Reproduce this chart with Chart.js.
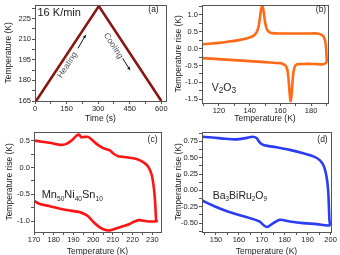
<!DOCTYPE html>
<html>
<head>
<meta charset="utf-8">
<script src="https://cdn.jsdelivr.net/npm/chart.js@4.4.1/dist/chart.umd.min.js"></script>
<style>
    html, body { margin: 0; padding: 0; width: 340px; height: 255px; overflow: hidden; background: #fff; }
    canvas { position: absolute; }
</style>
</head>
<body>
<canvas id="chartRamp" width="170" height="127" style="left:0;top:0"></canvas>
<canvas id="chartV2O3" width="170" height="127" style="left:170px;top:0"></canvas>
<canvas id="chartMnNiSn" width="170" height="130" style="left:0;top:127px"></canvas>
<canvas id="chartBBR" width="170" height="130" style="left:170px;top:127px"></canvas>
<script>
/* ─── Data ─────────────────────────────────────────────────── */

// (a) temperature program
const rampTime = [5, 303, 600];
const rampTemp = [165, 234, 165];

// (b) V2O3 — heating branch then cooling branch
const v2o3T = [109, 115, 120, 125, 130, 135, 140, 143, 144.5, 145.8, 146.8, 147.6, 148.3, 149.1, 150, 151, 152.5, 154.5, 160, 170, 180, 184, 187.2, 188.7, 189.6, 190, 190, 188, 184, 178, 172, 171, 169.5, 168.5, 167.8, 167.1, 166.6, 166, 165.3, 164.5, 163.3, 161.5, 160, 150, 140, 130, 120, 109];
const v2o3Rise = [0.13, 0.15, 0.17, 0.2, 0.23, 0.27, 0.33, 0.40, 0.48, 0.65, 0.95, 1.20, 1.26, 1.10, 0.80, 0.60, 0.50, 0.46, 0.45, 0.45, 0.45, 0.45, 0.40, 0.30, 0.10, -0.20, -0.40, -0.46, -0.46, -0.45, -0.46, -0.46, -0.52, -0.70, -1.05, -1.45, -1.55, -1.30, -0.90, -0.62, -0.50, -0.45, -0.43, -0.40, -0.37, -0.34, -0.31, -0.28];

// (c) Mn50Ni40Sn10
const mnT = [170, 174, 178, 182, 184, 186.4, 189, 191.5, 192.9, 194, 195.8, 197.5, 199.2, 201.7, 205.1, 208.5, 210.2, 212.7, 217, 222, 225.4, 228, 229.7, 230.8, 231.5, 231.9, 232.2, 227, 223.7, 221.2, 218.6, 215.3, 211.9, 208.5, 205.1, 202.5, 200, 197.5, 195.8, 193.2, 186.4, 178, 172.9, 170];
const mnRise = [0.5, 0.48, 0.46, 0.43, 0.42, 0.44, 0.5, 0.59, 0.61, 0.56, 0.57, 0.57, 0.52, 0.44, 0.36, 0.32, 0.26, 0.21, 0.19, 0.16, 0.10, 0.01, -0.14, -0.39, -0.69, -0.97, -1.0, -1.0, -0.98, -1.0, -1.05, -1.09, -1.13, -1.17, -1.15, -1.09, -1.01, -0.91, -0.87, -0.83, -0.79, -0.72, -0.68, -0.62];

// (d) Ba3BiRu2O9
const bbrT = [143.9, 148.3, 154.2, 158.6, 163, 166, 167.7, 169.2, 171.1, 176.3, 182.2, 188.1, 192.5, 195.4, 197.2, 198.4, 199, 199.3, 199.5, 199.5, 194, 188.1, 182.2, 177.8, 175, 172.1, 168.9, 164.5, 158.6, 154.2, 149.8, 145.4, 143.9];
const bbrRise = [0.82, 0.81, 0.79, 0.78, 0.80, 0.82, 0.80, 0.73, 0.69, 0.66, 0.62, 0.57, 0.52, 0.46, 0.36, 0.18, -0.02, -0.27, -0.45, -0.535, -0.515, -0.5, -0.475, -0.45, -0.50, -0.56, -0.475, -0.42, -0.36, -0.31, -0.25, -0.18, -0.15];

/* ─── Shared style ─────────────────────────────────────────── */
const FONT = "'Liberation Sans', Arial, sans-serif";
const INK = '#222';
const FRAME = '#555';

function isMajor(v, major) {
    const r = v / major;
    return Math.abs(r - Math.round(r)) < 1e-6;
}

function axis(o) {
    return {
        type: 'linear', min: o.min, max: o.max,
        afterFit: s => { if (s.isHorizontal()) s.height = o.size; else s.width = o.size; },
        border: { display: false },
        grid: { drawOnChartArea: false, drawTicks: true, tickLength: 3, color: FRAME, lineWidth: 1 },
        ticks: {
            stepSize: o.minor, autoSkip: false, includeBounds: false, maxRotation: 0,
            padding: o.tickPad ?? 1, color: INK, font: { size: 7.5, family: FONT, lineHeight: 1 },
            callback: v => {
                if (Math.abs(v) < 1e-9) v = 0;
                return isMajor(v, o.major) ? v.toFixed(o.dec) : '';
            }
        },
        title: { display: true, text: o.title, color: INK, font: { size: 8.5, family: FONT }, padding: o.titlePad }
    };
}

// frame round the plot area
const frame = {
    id: 'frame',
    afterDatasetsDraw(chart) {
        const { ctx, chartArea: a } = chart;
        ctx.save();
        ctx.strokeStyle = FRAME;
        ctx.lineWidth = 1;
        ctx.strokeRect(Math.round(a.left) + 0.5, Math.round(a.top) + 0.5,
            Math.round(a.right) - Math.round(a.left), Math.round(a.bottom) - Math.round(a.top));
        ctx.restore();
    }
};

// text with subscripts: parts = [[text, isSub], ...]
function richText(ctx, parts, x, y, size, subScale, drop) {
    let cx = x;
    ctx.textAlign = 'left';
    ctx.textBaseline = 'alphabetic';
    parts.forEach(([t, sub]) => {
        ctx.font = (sub ? size * subScale : size) + 'px ' + FONT;
        ctx.fillText(t, cx, sub ? y + drop : y);
        cx += ctx.measureText(t).width;
    });
}

function panelLabel(ctx, txt, x, y) {
    ctx.font = '8.5px ' + FONT;
    ctx.fillStyle = INK;
    ctx.textAlign = 'center';
    ctx.textBaseline = 'alphabetic';
    ctx.fillText(txt, x, y);
}

function arrow(ctx, x1, y1, x2, y2) {
    const ang = Math.atan2(y2 - y1, x2 - x1);
    ctx.strokeStyle = '#111';
    ctx.fillStyle = '#111';
    ctx.lineWidth = 1;
    ctx.beginPath(); ctx.moveTo(x1, y1); ctx.lineTo(x2, y2); ctx.stroke();
    ctx.beginPath();
    ctx.moveTo(x2, y2);
    ctx.lineTo(x2 - 3.5 * Math.cos(ang - 0.45), y2 - 3.5 * Math.sin(ang - 0.45));
    ctx.lineTo(x2 - 3.5 * Math.cos(ang + 0.45), y2 - 3.5 * Math.sin(ang + 0.45));
    ctx.closePath(); ctx.fill();
}

function rotText(ctx, txt, x, y, deg) {
    ctx.save();
    ctx.translate(x, y);
    ctx.rotate(deg * Math.PI / 180);
    ctx.font = '8.5px ' + FONT;
    ctx.fillStyle = '#555';
    ctx.textAlign = 'center';
    ctx.textBaseline = 'middle';
    ctx.fillText(txt, 0, 0);
    ctx.restore();
}

function makePanel(id, cfg) {
    const pts = cfg.xs.map((x, i) => ({ x, y: cfg.ys[i] }));
    return new Chart(document.getElementById(id), {
        type: 'scatter',
        data: { datasets: [{ data: pts, showLine: true, borderColor: cfg.color, borderWidth: 2.6, pointRadius: 0, tension: cfg.tension, fill: false }] },
        options: {
            responsive: false, animation: false, events: [],
            layout: { padding: cfg.pad },
            plugins: { legend: { display: false }, tooltip: { enabled: false } },
            scales: { x: axis(cfg.x), y: axis(cfg.y) }
        },
        plugins: [frame, { id: 'deco', afterDraw(chart) { const c = chart.ctx; c.save(); cfg.deco(c); c.restore(); } }]
    });
}

// ─── (a) ────────────────────────────────────────────────────
makePanel('chartRamp', {
    xs: rampTime, ys: rampTemp, color: '#8b1414', tension: 0,
    pad: { left: 0, top: 2, right: 4, bottom: 0 },
    x: { min: 0, max: 622, minor: 75, major: 150, dec: 0, size: 26, title: 'Time (s)', titlePad: { top: 0, bottom: 3.6 } },
    y: { min: 165, max: 235, minor: 7.5, major: 15, dec: 0, size: 35, title: 'Temperature (K)', titlePad: { top: 4, bottom: 0 } },
    deco(ctx) {
        ctx.fillStyle = INK;
        ctx.font = '11px ' + FONT;
        ctx.textAlign = 'left';
        ctx.fillText('16 K/min', 37.5, 15.5);
        panelLabel(ctx, '(a)', 153.5, 11.5);
        rotText(ctx, 'Heating', 67.5, 65, -57);
        rotText(ctx, 'Cooling', 113.3, 45.8, 57);
        arrow(ctx, 78, 48.3, 85.7, 35);
        arrow(ctx, 122.7, 58.3, 130, 70);
    }
});

// ─── (b) ────────────────────────────────────────────────────
makePanel('chartV2O3', {
    xs: v2o3T, ys: v2o3Rise, color: '#ff6a16', tension: 0.3,
    pad: { left: 0, top: 2, right: 12, bottom: 0 },
    x: { min: 109, max: 191, minor: 10, major: 20, dec: 0, size: 24, title: 'Temperature (K)', titlePad: { top: 0, bottom: 3.6 } },
    y: { min: -1.61, max: 1.30, minor: 0.25, major: 0.5, dec: 1, size: 32, title: 'Temperature rise (K)', titlePad: { top: 4, bottom: 0 } },
    deco(ctx) {
        panelLabel(ctx, '(b)', 151, 11.5);
        ctx.fillStyle = INK;
        richText(ctx, [['V', 0], ['2', 1], ['O', 0], ['3', 1]], 41.7, 90.5, 10.5, 0.8, 2);
    }
});

// ─── (c) ────────────────────────────────────────────────────
makePanel('chartMnNiSn', {
    xs: mnT, ys: mnRise, color: '#ff1414', tension: 0.2,
    pad: { left: 0, top: 3.5, right: 9, bottom: 0 },
    x: { min: 170, max: 234.4, minor: 5, major: 10, dec: 0, size: 25, title: 'Temperature (K)', titlePad: { top: 0, bottom: 0.6 } },
    y: { min: -1.2, max: 0.665, minor: 0.25, major: 0.5, dec: 1, size: 34, title: 'Temperature rise (K)', titlePad: { top: 4.5, bottom: 0 } },
    deco(ctx) {
        panelLabel(ctx, '(c)', 152.5, 14.5);
        ctx.fillStyle = INK;
        richText(ctx, [['Mn', 0], ['50', 1], ['Ni', 0], ['40', 1], ['Sn', 0], ['10', 1]], 41.7, 71.3, 11, 0.6, 2.5);
    }
});

// ─── (d) ────────────────────────────────────────────────────
makePanel('chartBBR', {
    xs: bbrT, ys: bbrRise, color: '#2a3cf5', tension: 0.3,
    pad: { left: 0, top: 3.5, right: 9, bottom: 0 },
    x: { min: 143.9, max: 200.2, minor: 5, major: 10, dec: 0, size: 25, title: 'Temperature (K)', titlePad: { top: 0, bottom: 0.6 } },
    y: { min: -0.636, max: 0.897, minor: 0.125, major: 0.25, dec: 2, size: 32, title: 'Temperature rise (K)', titlePad: { top: 3.6, bottom: 0 } },
    deco(ctx) {
        panelLabel(ctx, '(d)', 152.5, 14.5);
        ctx.fillStyle = INK;
        richText(ctx, [['Ba', 0], ['3', 1], ['BiRu', 0], ['2', 1], ['O', 0], ['9', 1]], 42.7, 71.5, 10.5, 0.6, 2.5);
    }
});
</script>
</body>
</html>
